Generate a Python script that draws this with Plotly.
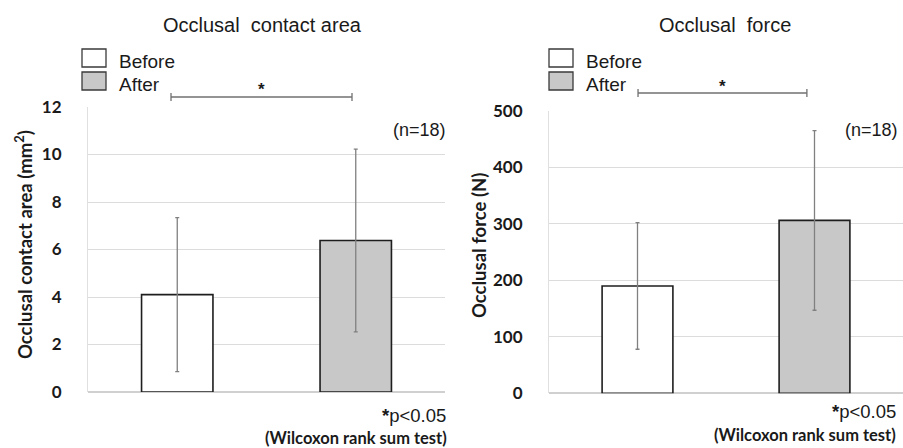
import plotly.graph_objects as go

# ---- data ----
categories = ["Before", "After"]
area_mean = [4.1, 6.38]
area_sd = [3.24, 3.85]
force_mean = [190, 306]
force_sd = [112, 159]
area_ticks = [0, 2, 4, 6, 8, 10, 12]
force_ticks = [0, 100, 200, 300, 400, 500]

W, H = 903, 448
def px(x):
    return x / W
def py(y):
    return 1 - y / H

fills = ["#ffffff", "#c8c8c8"]
TICKFONT = dict(family="Lato", size=17, color="#1a1a1a", weight="bold")
fig = go.Figure()

fig.add_trace(go.Bar(
    x=categories, y=area_mean, width=0.4,
    marker=dict(color=fills, line=dict(color="#1e1e1e", width=1.6)),
    error_y=dict(type="data", array=area_sd, visible=True, color="#808080", thickness=1.3, width=2),
    xaxis="x", yaxis="y", showlegend=False))
fig.add_trace(go.Bar(
    x=categories, y=force_mean, width=0.4,
    marker=dict(color=fills, line=dict(color="#1e1e1e", width=1.6)),
    error_y=dict(type="data", array=force_sd, visible=True, color="#808080", thickness=1.3, width=2),
    xaxis="x2", yaxis="y2", showlegend=False))

common_x = dict(type="category", range=[-0.5, 1.5], showticklabels=False, showgrid=False,
                zeroline=False, showline=False, ticks="", automargin=False)
common_y = dict(showgrid=True, gridcolor="#dcdcdc", gridwidth=1, zeroline=True, zerolinecolor="#d0d0d0",
                showline=True, linecolor="#e0e0e0", ticks="", ticklabelstandoff=22,
                tickfont=TICKFONT, automargin=False)
fig.update_layout(
    width=W, height=H, margin=dict(l=0, r=0, t=0, b=0, pad=0, autoexpand=False),
    paper_bgcolor="white", plot_bgcolor="white",
    xaxis=dict(domain=[px(88), px(445)], anchor="y", **common_x),
    xaxis2=dict(domain=[px(549), px(903)], anchor="y2", **common_x),
    yaxis=dict(domain=[py(392), py(107)], range=[0, 12], tickvals=area_ticks, anchor="x", **common_y),
    yaxis2=dict(domain=[py(393.3), py(110.8)], range=[0, 500], tickvals=force_ticks, anchor="x2", **common_y),
)

ann = []
shapes = []
SANS = "Liberation Sans"

def text(x, y, s, size, family=SANS, xanchor="center", bold=False, angle=0, color="#1a1a1a"):
    ann.append(dict(x=px(x), y=py(y), xref="paper", yref="paper", text=("<b>%s</b>" % s) if bold else s,
                    showarrow=False, xanchor=xanchor, yanchor="middle", textangle=angle,
                    font=dict(family=family, size=size, color=color)))

# titles
text(262, 25, "Occlusal  contact area", 20)
text(724.5, 25, "Occlusal  force", 20)

# y-axis titles
text(23, 245, "Occlusal contact area (mm<sup>2</sup>)", 18.5, family="Lato", bold=True, angle=-90)
text(479, 245, "Occlusal force (N)", 18.5, family="Lato", bold=True, angle=-90)

# legends (boxes + labels)
for (lx, tx) in [(82, 117), (549, 584)]:
    for i, (lab, col) in enumerate(zip(categories, fills)):
        y0 = 49 + i * 23
        shapes.append(dict(type="rect", xref="paper", yref="paper",
                           x0=px(lx), x1=px(lx + 24), y0=py(y0 + 18), y1=py(y0),
                           line=dict(color="#3a3a3a", width=1.3), fillcolor=col))
        text(tx, y0 + 12, lab, 19, xanchor="left")

# significance brackets
for (xr, x0, x1, yy, star_y) in [("x", -0.035, 0.979, 97, 89), ("x2", 0.003, 0.957, 93, 86)]:
    shapes.append(dict(type="line", xref=xr, yref="paper", x0=x0, x1=x1, y0=py(yy), y1=py(yy),
                       line=dict(color="#707070", width=1.5)))
    for xe in (x0, x1):
        shapes.append(dict(type="line", xref=xr, yref="paper", x0=xe, x1=xe, y0=py(yy - 4), y1=py(yy + 4),
                           line=dict(color="#707070", width=1.3)))
    ann.append(dict(x=(x0 + x1) / 2, y=py(star_y), xref=xr, yref="paper", text="<b>*</b>", showarrow=False,
                    xanchor="center", yanchor="middle", font=dict(family=SANS, size=17, color="#1a1a1a")))

# n labels
text(448, 130, "(n=18)", 18, xanchor="right")
text(900, 130, "(n=18)", 18, xanchor="right")

# p-value notes
text(448, 415, "<b>*</b>p<0.05", 18.5, xanchor="right")
text(449, 438, "(Wilcoxon rank sum test)", 16.5, family="Lato", bold=True, xanchor="right")
text(898, 411, "<b>*</b>p<0.05", 18.5, xanchor="right")
text(898, 435, "(Wilcoxon rank sum test)", 16.5, family="Lato", bold=True, xanchor="right")

fig.update_layout(annotations=ann, shapes=shapes)
fig.write_html(
    "out.html",
    config={"displayModeBar": False},
    post_script=(
        "document.documentElement.style.overflow='hidden';"
        "document.body.style.margin='0';document.body.style.overflow='hidden';"
        "var gd=document.getElementById('{plot_id}');"
        "gd.style.position='fixed';gd.style.top='0px';gd.style.left='0px';"
    ),
)
